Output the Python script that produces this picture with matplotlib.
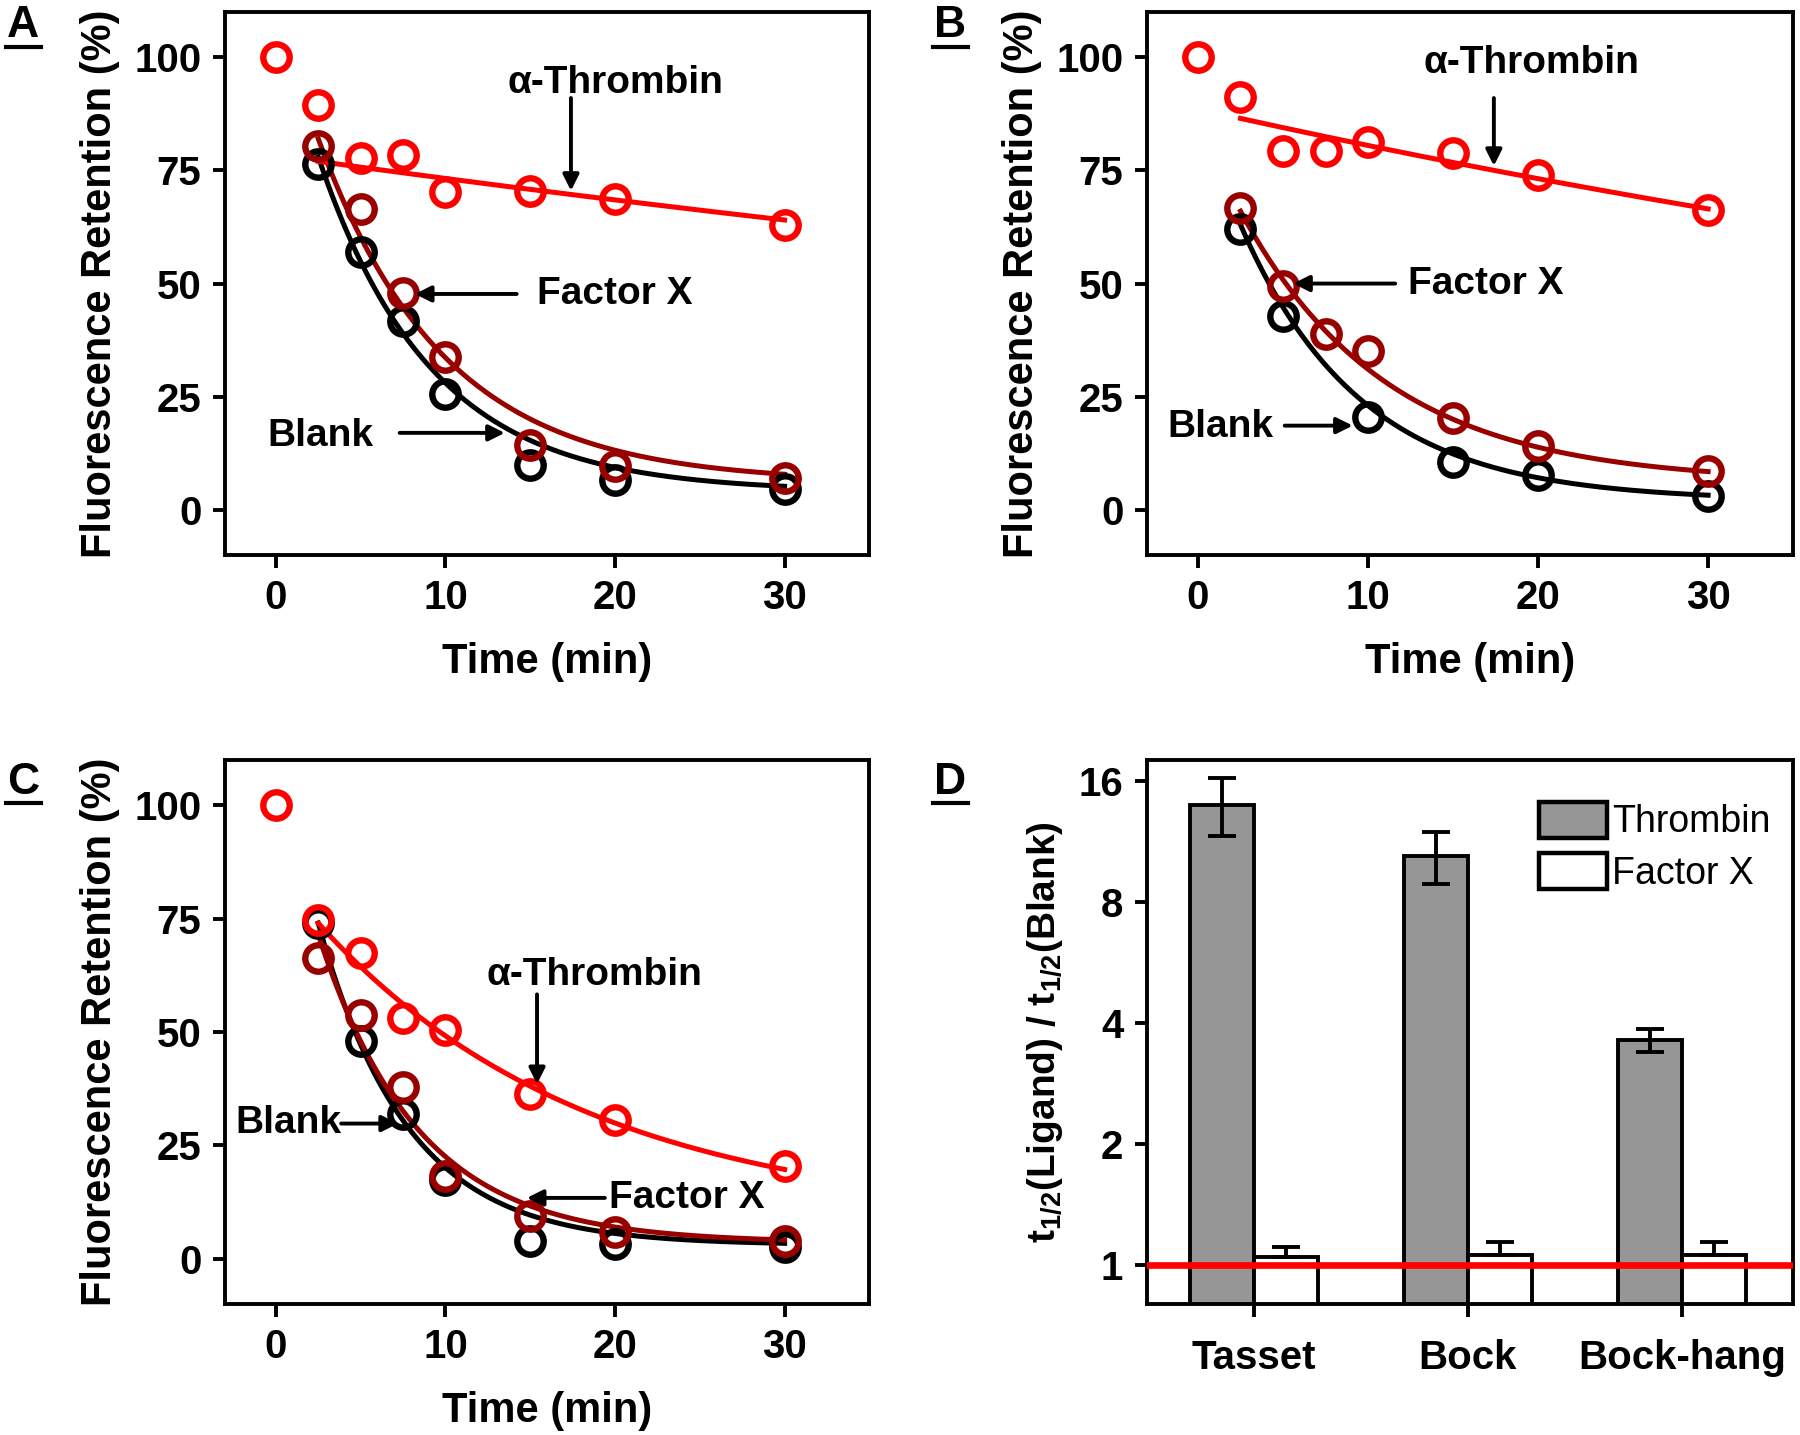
import numpy as np
import matplotlib
matplotlib.use("Agg")
from matplotlib import pyplot as plt
from matplotlib.lines import Line2D
from matplotlib.patches import Patch

plt.rcParams["font.family"] = ["Liberation Sans", "DejaVu Sans"]
plt.rcParams["font.weight"] = "bold"
plt.rcParams["mathtext.default"] = "regular"

# ---- data ----
time = [0, 2.5, 5, 7.5, 10, 15, 20, 30]

a_thrombin = [100, 89.4, 77.8, 78.3, 70.2, 70.5, 68.7, 63.0]
a_factorx = [80.3, 66.4, 48.0, 33.8, 14.4, 9.6, 7.1]
a_blank = [76.5, 57.0, 41.7, 25.5, 9.8, 6.6, 4.5]

b_thrombin = [100, 91.2, 79.3, 79.3, 81.3, 78.8, 74.0, 66.2]
b_factorx = [66.7, 49.5, 38.9, 35.0, 20.2, 14.1, 8.6]
b_blank = [62.1, 42.9, None, 20.5, 10.6, 7.8, 3.0]

c_thrombin = [100, 74.7, 67.4, 53.0, 50.5, 36.4, 30.6, 20.5]
c_factorx = [66.4, 53.8, 37.9, 18.2, 9.3, 5.8, 4.0]
c_blank = [74.0, 48.0, 32.0, 17.4, 4.0, 3.3, 2.5]

# exponential fits: (plateau, amplitude at t=2.5, rate)
a_fits = {"thrombin": (0, 77, 0.0067), "factorx": (6, 76, 0.135), "blank": (4, 74, 0.15)}
b_fits = {"thrombin": (0, 86.5, 0.00956), "factorx": (6, 60, 0.1164), "blank": (2, 61, 0.142)}
c_fits = {"thrombin": (8, 66, 0.063), "factorx": (3.5, 68, 0.17), "blank": (3, 71, 0.19)}

groups = ["Tasset", "Bock", "Bock-hang"]
thrombin_ratio = [14.0, 10.45, 3.63]
thrombin_err = [2.3, 1.55, 0.23]
factorx_ratio = [1.05, 1.06, 1.06]
factorx_err_up = [0.06, 0.08, 0.08]

RED = "#ff0000"
DARK = "#990000"
TICK_FS = 29
LABEL_FS = 30
NOTE_FS = 28

fig = plt.figure(figsize=(18, 14.35), dpi=100)
ax_a = fig.add_axes([0.125, 0.6132, 0.358, 0.3784])
ax_b = fig.add_axes([0.6372, 0.6132, 0.359, 0.3784])
ax_c = fig.add_axes([0.125, 0.0913, 0.358, 0.3791])
ax_d = fig.add_axes([0.6372, 0.0913, 0.359, 0.3791])


def style_axes(ax):
    for sp in ax.spines.values():
        sp.set_linewidth(2.8)
    ax.tick_params(axis="both", which="both", direction="out", length=9, width=2.8,
                   labelsize=TICK_FS, top=False, right=False, pad=8)
    for lab in ax.get_xticklabels() + ax.get_yticklabels():
        lab.set_fontweight("bold")


def decay_panel(ax, thr, fx, bl, fits, notes):
    t_fit = np.linspace(2.5, 30, 200)
    for key, col in [("blank", "black"), ("factorx", DARK), ("thrombin", RED)]:
        c0, amp, k = fits[key]
        ax.plot(t_fit, c0 + amp * np.exp(-k * (t_fit - 2.5)), color=col, lw=3.6, zorder=2)
    for vals, col, t in [(bl, "black", time[1:]), (fx, DARK, time[1:]), (thr, RED, time)]:
        pts = [(ti, v) for ti, v in zip(t, vals) if v is not None]
        ax.plot([p[0] for p in pts], [p[1] for p in pts], "o", ms=19, mfc="none",
                mec=col, mew=4.6, zorder=3)
    for label, txy, tail, tip in notes:
        ax.text(txy[0], txy[1], label, fontsize=NOTE_FS, fontweight="bold", ha="center",
                va="center", zorder=5)
        ax.annotate("", xy=tip, xytext=tail,
                    arrowprops=dict(arrowstyle="-|>", color="black", lw=2.8,
                                    mutation_scale=24, shrinkA=0, shrinkB=0), zorder=5)
    ax.set_xlim(-3, 35)
    ax.set_ylim(-10, 110)
    ax.set_xticks([0, 10, 20, 30])
    ax.set_yticks([0, 25, 50, 75, 100])
    ax.set_xlabel("Time (min)", fontsize=LABEL_FS, fontweight="bold", labelpad=18)
    ax.set_ylabel("Fluorescence Retention (%)", fontsize=LABEL_FS, fontweight="bold",
                  labelpad=10)
    style_axes(ax)


decay_panel(ax_a, a_thrombin, a_factorx, a_blank, a_fits, [
    ("\u03b1-Thrombin", (20.0, 94.4), (17.4, 91), (17.4, 70.5)),
    ("Factor X", (20.0, 47.7), (14.2, 47.7), (8.2, 47.7)),
    ("Blank", (2.6, 16.4), (7.3, 17.0), (13.5, 17.0)),
])
decay_panel(ax_b, b_thrombin, b_factorx, b_blank, b_fits, [
    ("\u03b1-Thrombin", (19.6, 98.7), (17.4, 91), (17.4, 76.0)),
    ("Factor X", (16.9, 50.0), (11.6, 50.0), (5.6, 50.0)),
    ("Blank", (1.35, 18.4), (5.1, 18.6), (9.1, 18.6)),
])
decay_panel(ax_c, c_thrombin, c_factorx, c_blank, c_fits, [
    ("\u03b1-Thrombin", (18.8, 62.6), (15.4, 58.3), (15.4, 38.5)),
    ("Factor X", (24.2, 13.4), (19.4, 13.4), (14.8, 13.4)),
    ("Blank", (0.74, 30.0), (3.85, 29.8), (7.2, 29.8)),
])

# ---- panel D ----
x = np.arange(len(groups))
w = 0.30
ax_d.bar(x - w / 2, thrombin_ratio, w, color="#969696", edgecolor="black", lw=2.8,
         zorder=2)
ax_d.bar(x + w / 2, factorx_ratio, w, color="white", edgecolor="black", lw=2.8,
         zorder=2)
ax_d.errorbar(x - w / 2, thrombin_ratio, yerr=thrombin_err, fmt="none", ecolor="black",
              elinewidth=2.8, capsize=10, capthick=2.8, zorder=3)
ax_d.errorbar(x + w / 2, factorx_ratio, yerr=[[0] * len(groups), factorx_err_up],
              fmt="none", ecolor="black", elinewidth=2.8, capsize=10, capthick=2.8,
              zorder=3)
ax_d.axhline(1, color=RED, lw=4.8, zorder=4)
ax_d.set_yscale("log", base=2)
ax_d.set_ylim(0.8, 18.1)
ax_d.set_xlim(-0.5, 2.52)
ax_d.set_yticks([1, 2, 4, 8, 16])
ax_d.set_yticklabels(["1", "2", "4", "8", "16"])
ax_d.minorticks_off()
ax_d.set_xticks(x)
ax_d.set_xticklabels(groups)
ax_d.set_ylabel(r"t$_{1/2}$(Ligand) / t$_{1/2}$(Blank)", fontsize=LABEL_FS - 2,
                fontweight="bold", labelpad=10)
style_axes(ax_d)
ax_d.tick_params(axis="x", pad=16)
handles = [Patch(facecolor="#969696", edgecolor="black", lw=3.2),
           Patch(facecolor="white", edgecolor="black", lw=3.2)]
ax_d.legend(handles, ["Thrombin", "Factor X"], loc="upper right", frameon=False,
            prop={"size": 27, "weight": "normal"}, handlelength=1.8, handleheight=1.1,
            handletextpad=0.15, labelspacing=0.35, borderaxespad=0.2,
            bbox_to_anchor=(1.0, 0.965))

# ---- panel letters ----
for letter, fx_, fy_ in [("A", 0.013, 0.982), ("B", 0.528, 0.982),
                         ("C", 0.013, 0.455), ("D", 0.528, 0.455)]:
    fig.text(fx_, fy_, letter, fontsize=32, fontweight="bold", ha="center", va="center")
    fig.add_artist(Line2D([fx_ - 0.0095, fx_ + 0.0095], [fy_ - 0.0145, fy_ - 0.0145],
                          color="black", lw=3))

fig.savefig("out.png", dpi=100)
